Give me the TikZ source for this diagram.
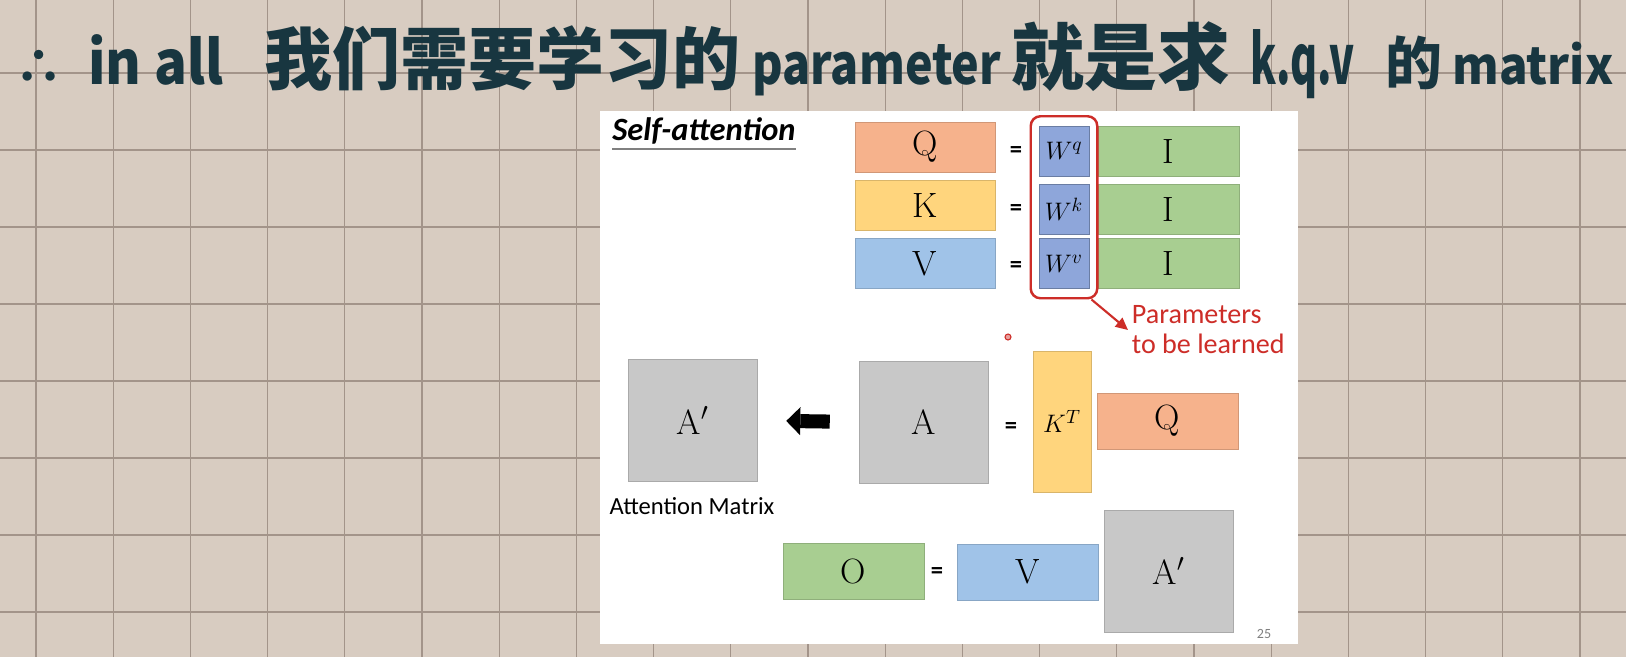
\documentclass[tikz,border=0pt]{standalone}
\usepackage{fontspec}
\usepackage{graphicx}
\newfontfamily\cjkhand{Noto Sans CJK SC}
\newfontfamily\slidefont{Carlito}
\usetikzlibrary{arrows.meta, fit, calc}

\definecolor{paper}{RGB}{216,204,193}
\definecolor{gridc}{RGB}{163,148,138}
\definecolor{ink}{RGB}{24,54,64}
\definecolor{qorange}{RGB}{246,178,140}
\definecolor{kyellow}{RGB}{255,213,125}
\definecolor{vblue}{RGB}{160,195,232}
\definecolor{wblue}{RGB}{142,166,218}
\definecolor{igreen}{RGB}{168,206,145}
\definecolor{agray}{RGB}{200,200,200}
\definecolor{pred}{RGB}{205,45,40}

\newcommand\handsize[1]{\cjkhand\bfseries\fontsize{#1}{#1}\selectfont}
% latin handwriting squeezed to a given width and height
\newcommand\handfit[3]{\resizebox{#1}{#2}{\handsize{30}#3}}

\tikzset{
  gridline/.style={draw=gridc, line width=0.7pt},
  hand/.style={text=ink, anchor=base west, inner sep=0pt},
  mat/.style={inner sep=0pt, line width=0.3pt, font=\fontsize{20}{20}\selectfont},
  qbox/.style={mat, fill=qorange, draw=qorange!85!black},
  kbox/.style={mat, fill=kyellow, draw=kyellow!85!black},
  vbox/.style={mat, fill=vblue, draw=vblue!85!black},
  ibox/.style={mat, fill=igreen, draw=igreen!85!black},
  abox/.style={mat, fill=agray, draw=agray!85!black},
  wbox/.style={mat, fill=wblue, draw=wblue!75!black, minimum width=1cm, minimum height=1cm,
    font=\fontsize{15}{15}\selectfont},
  eq/.style={inner sep=0pt, font=\slidefont\bfseries\fontsize{14}{14}\selectfont},
  redbox/.style={draw=pred, line width=1.4pt, rounded corners=5.5pt,
    inner xsep=0.16cm, inner ysep=0.19cm},
  redarrow/.style={draw=pred, line width=1.2pt, -{Triangle[length=7pt,width=6.5pt]}},
  blockarrow/.style={line width=8pt,
    -{Triangle[length=8pt,width=16pt,line width=0pt]},
    shorten <=0.58cm, shorten >=0.58cm}
}

\begin{document}
\begin{tikzpicture}[x=0.02cm, y=-0.02cm, >=Stealth]

    \useasboundingbox (0,0) rectangle (1626,657);
    \fill[paper] (0,0) rectangle (1626,657);

    % Draw the grid
    \foreach \gx in {0,...,20} {
      \draw[gridline] ({36+77.2*\gx},0) -- ({36+77.2*\gx},657);
    }
    \foreach \gy in {0,...,7} {
      \draw[gridline] (0,{73+77*\gy}) -- (1626,{73+77*\gy});
    }

    % Handwritten note
    \node[hand, font=\handsize{28}] (hw1) at (14,84) {∴};
    \node[hand] (hw2) at (88,84) {\handfit{2.7cm}{1.0cm}{in all}};
    \node[hand, font=\handsize{38.7}] (hw3) at (264,84) {我们需要学习的};
    \node[hand] (hw4) at (752,84) {\handfit{4.98cm}{0.8cm}{parameter}};
    \node[hand, font=\handsize{41.5}] (hw5) at (1011,84) {就是求};
    \node[hand] (hw6) at (1250,84) {\handfit{2.08cm}{1.1cm}{k.q.v}};
    \node[hand, font=\handsize{32.4}] (hw7) at (1385,84) {的};
    \node[hand] (hw8) at (1452,84) {\handfit{3.22cm}{0.85cm}{matrix}};

    % Slide
    \fill[white] (600,111) rectangle (1298,644);
    \node[anchor=base west, inner sep=0pt,
      font=\slidefont\bfseries\itshape\fontsize{18.5}{18.5}\selectfont] (title) at (612,140) {Self-attention};
    \draw[gray, line width=1.1pt] ($(title.base west)+(0,9)$) -- ($(title.base east)+(0,9)$);

    % Q, K, V from I
    \node[qbox, minimum width=2.8cm, minimum height=1cm] (q1) at (925,147) {Q};
    \node[kbox, minimum width=2.8cm, minimum height=1cm] (k1) at (925,205.5) {K};
    \node[vbox, minimum width=2.8cm, minimum height=1cm] (v1) at (925,263.5) {V};

    \node[eq] (eq1) at (1016,152) {=};
    \node[eq] (eq2) at (1016,210) {=};
    \node[eq] (eq3) at (1016,267) {=};

    \node[wbox] (wq) at (1064,151) {$W^q$};
    \node[wbox] (wk) at (1064,209) {$W^k$};
    \node[wbox] (wv) at (1064,263.5) {$W^v$};

    \node[ibox, minimum width=2.82cm, minimum height=1cm] (i1) at (1168.5,151) {I};
    \node[ibox, minimum width=2.82cm, minimum height=1cm] (i2) at (1168.5,209) {I};
    \node[ibox, minimum width=2.82cm, minimum height=1cm] (i3) at (1168.5,263.5) {I};

    \node[redbox, fit=(wq)(wv)] (learn) {};
    \node[anchor=west, align=left, inner sep=2pt, text=pred,
      font=\slidefont\fontsize{16}{17}\selectfont] (params) at (1128,330) {Parameters\\to be learned};
    \draw[redarrow] ($(learn.south east)+(-7,0)$) -- (params.west);

    \node[circle, draw=pred, fill=pred!45, inner sep=0pt, minimum size=0.12cm,
      line width=0.6pt] (dot) at (1008,337) {};

    % Attention matrix
    \node[abox, minimum width=2.58cm, minimum height=2.44cm] (ap1) at (692.5,420.5) {A$'$};
    \node[inner sep=0pt, font=\slidefont\fontsize{14}{14}\selectfont] (attn) at (692,506) {Attention Matrix};
    \node[abox, minimum width=2.58cm, minimum height=2.44cm] (a1) at (923.5,422) {A};
    \draw[blockarrow] (a1.west) -- (ap1.east);
    \node[eq] (eq4) at (1011,428) {=};
    \node[kbox, minimum width=1.16cm, minimum height=2.82cm,
      font=\fontsize{15}{15}\selectfont] (kt) at (1062,421.5) {$K^T$};
    \node[qbox, minimum width=2.82cm, minimum height=1.12cm] (q2) at (1167.5,421) {Q};

    % Output
    \node[ibox, minimum width=2.82cm, minimum height=1.12cm] (o1) at (853.5,571) {O};
    \node[eq] (eq5) at (937,573) {=};
    \node[vbox, minimum width=2.82cm, minimum height=1.12cm] (v2) at (1027.5,572) {V};
    \node[abox, minimum width=2.58cm, minimum height=2.44cm] (ap2) at (1168.5,571) {A$'$};

    \node[inner sep=0pt, text=gray, font=\slidefont\fontsize{8}{8}\selectfont] (pnum) at (1264,634) {25};

\end{tikzpicture}
\end{document}
